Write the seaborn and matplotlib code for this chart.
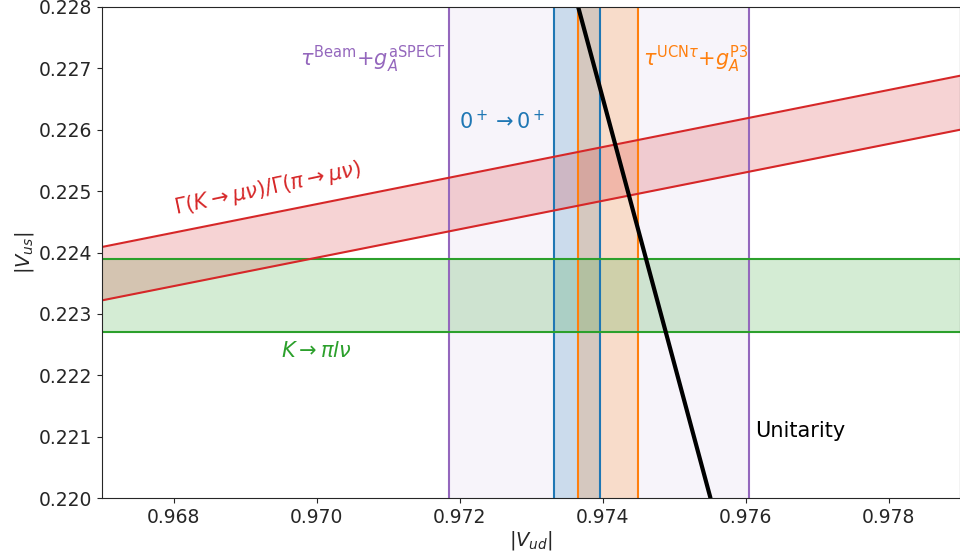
import numpy as np
import pandas as pd
import matplotlib
matplotlib.use("Agg")
import matplotlib.pyplot as plt
import seaborn as sns

# vertical bands in |V_ud|
vud_beam = [0.97185, 0.97605]     # tau^Beam + g_A^aSPECT
vud_00 = [0.97332, 0.97397]       # 0+ -> 0+
vud_ucn = [0.97366, 0.97450]      # tau^UCNtau + g_A^P3

# horizontal band in |V_us|
vus_kpilnu = [0.2227, 0.2239]

# Gamma(K->mu nu)/Gamma(pi->mu nu) band, read at the two x limits
ratio_x = [0.967, 0.979]
ratio_hi = [0.22409, 0.22688]
ratio_lo = [0.22322, 0.22600]

# unitarity line, read where it leaves the frame
unit_vud = [0.97366, 0.97551]
unit_vus = [0.2280, 0.2200]

xticks = [0.968, 0.970, 0.972, 0.974, 0.976, 0.978]
yticks = [0.220, 0.221, 0.222, 0.223, 0.224, 0.225, 0.226, 0.227, 0.228]

sns.set_style("ticks")
plt.rcParams['font.family'] = ['DejaVu Sans']

fig = plt.figure(figsize=(9.6, 5.58), dpi=100)
ax = fig.add_axes([102 / 960, 60 / 558, 858 / 960, 491 / 558])

pal = sns.color_palette("tab10")
c_blue, c_orange, c_green, c_red, c_purple = pal[0], pal[1], pal[2], pal[3], pal[4]

# purple band
ax.axvspan(*vud_beam, color=c_purple, alpha=0.07, lw=0)
for v in vud_beam:
    ax.axvline(v, color=c_purple, lw=1.5)

# blue band
ax.axvspan(*vud_00, color=c_blue, alpha=0.2, lw=0)
for v in vud_00:
    ax.axvline(v, color=c_blue, lw=1.5)

# orange band
ax.axvspan(*vud_ucn, color=c_orange, alpha=0.2, lw=0)
for v in vud_ucn:
    ax.axvline(v, color=c_orange, lw=1.5)

# green band
ax.axhspan(*vus_kpilnu, color=c_green, alpha=0.2, lw=0)
for v in vus_kpilnu:
    ax.axhline(v, color=c_green, lw=1.5)

# red band
ratio_df = pd.DataFrame({"vud": ratio_x, "hi": ratio_hi, "lo": ratio_lo})
ax.fill_between(ratio_df["vud"], ratio_df["lo"], ratio_df["hi"], color=c_red, alpha=0.2, lw=0)
sns.lineplot(data=ratio_df, x="vud", y="hi", color=c_red, lw=1.5, ax=ax)
sns.lineplot(data=ratio_df, x="vud", y="lo", color=c_red, lw=1.5, ax=ax)

# unitarity
unit_df = pd.DataFrame({"vud": unit_vud, "vus": unit_vus})
sns.lineplot(data=unit_df, x="vud", y="vus", color="black", lw=3, ax=ax)

fs = 15
ax.text(0.97181, 0.22714, r'$\tau^{\rm Beam}$+$g_A^{\rm aSPECT}$', color=c_purple,
        fontsize=fs, ha='right', va='center')
ax.text(0.97457, 0.22714, r'$\tau^{{\rm UCN}\tau}$+$g_A^{\rm P3}$', color=c_orange,
        fontsize=fs, ha='left', va='center')
ax.text(0.97321, 0.22613, r'$0^+\rightarrow 0^+$', color=c_blue,
        fontsize=fs, ha='right', va='center')
ax.text(0.96932, 0.22505, r'$\Gamma(K\rightarrow\mu\nu)/\Gamma(\pi\rightarrow\mu\nu)$', color=c_red,
        fontsize=fs, ha='center', va='center', rotation=12)
ax.text(0.97000, 0.22239, r'$K\rightarrow\pi l\nu$', color=c_green,
        fontsize=fs, ha='center', va='center')
ax.text(0.97613, 0.22109, 'Unitarity', color='black', fontsize=fs, ha='left', va='center')

ax.set_xlim(0.967, 0.979)
ax.set_ylim(0.220, 0.228)
ax.set_xticks(xticks)
ax.set_yticks(yticks)
ax.set_xticklabels([f"{t:.3f}" for t in xticks])
ax.set_yticklabels([f"{t:.3f}" for t in yticks])
ax.tick_params(labelsize=13.5)
ax.set_xlabel(r'$|V_{ud}|$', fontsize=14, labelpad=2)
ax.set_ylabel(r'$|V_{us}|$', fontsize=14, labelpad=2)

fig.savefig('out.png', dpi=100)
